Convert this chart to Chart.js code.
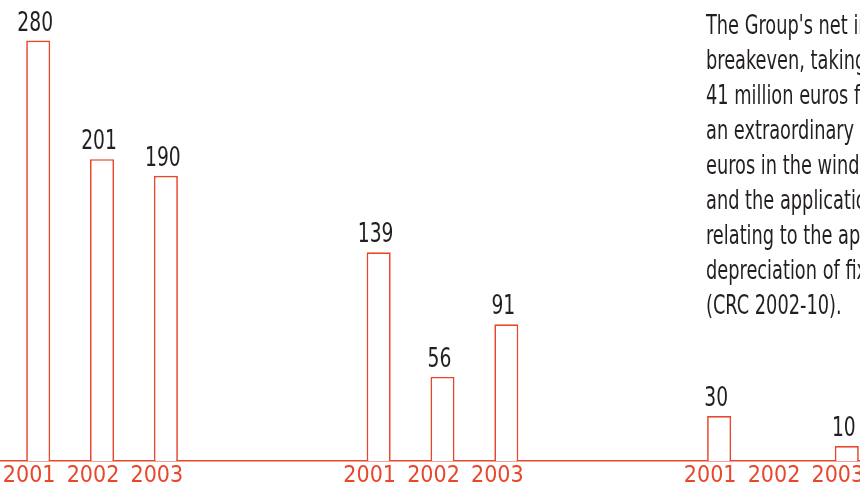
<!DOCTYPE html>
<html>
<head>
<meta charset="utf-8">
<script src="https://cdn.jsdelivr.net/npm/chart.js@4.4.0/dist/chart.umd.min.js"></script>
<style>
  html, body { margin: 0; padding: 0; background: #fff; }
  body { width: 860px; height: 491px; overflow: hidden; position: relative; }
  #wrap { position: absolute; left: -15px; top: 0; width: 915px; height: 491px; }
  #note {
    position: absolute; left: 706px; top: 8px;
    font-family: 'DejaVu Sans Condensed', 'Liberation Sans Narrow', sans-serif;
    font-size: 26px; line-height: 35px; color: #231f20; white-space: nowrap;
    transform: scaleX(0.76); transform-origin: 0 0;
  }
</style>
</head>
<body>
<div id="wrap"><canvas id="chart" width="915" height="491"></canvas></div>
<div id="note">The Group's net income was at<br>breakeven, taking into account<br>41 million euros for restructuring,<br>an extraordinary charge of<br>euros in the winding-up of<br>and the application of rules<br>relating to the approach to<br>depreciation of fixed assets<br>(CRC 2002-10).</div>
<script>
// values
const years = ['2001', '2002', '2003'];
const groupA = [280, 201, 190];
const groupB = [139, 56, 91];
const groupC = [30, null, 10];

const RED = '#e8472b';
const INK = '#231f20';
const FONT = "'DejaVu Sans Condensed', 'Liberation Sans Narrow', sans-serif";

// slot layout: bars every 3 slots, groups every 16 slots
const LEAD = 2, STEP = 3, GROUP = 16, TAIL = 2;
const labels = [];
const values = [];
[groupA, groupB, groupC].forEach((grp, g) => {
  years.forEach((yr, i) => {
    const idx = LEAD + g * GROUP + i * STEP;
    while (labels.length <= idx) { labels.push(''); values.push(null); }
    labels[idx] = yr;
    values[idx] = grp[i];
  });
});
for (let t = 0; t < TAIL; t++) { labels.push(''); values.push(null); }

// value above each bar, drawn a bit narrower like the print font
const valueLabels = {
  id: 'valueLabels',
  afterDatasetsDraw(chart) {
    const ctx = chart.ctx;
    const meta = chart.getDatasetMeta(0);
    ctx.save();
    ctx.font = '26px ' + FONT;
    ctx.fillStyle = INK;
    ctx.textAlign = 'center';
    ctx.textBaseline = 'alphabetic';
    meta.data.forEach((bar, i) => {
      const v = values[i];
      if (v === null) return;
      ctx.save();
      ctx.translate(bar.x - 3, bar.y - 10);
      ctx.scale(0.8, 1);
      ctx.fillText(String(v), 0, 0);
      ctx.restore();
    });
    ctx.restore();
  }
};

new Chart(document.getElementById('chart'), {
  type: 'bar',
  data: {
    labels: labels,
    datasets: [{
      data: values,
      backgroundColor: '#ffffff',
      borderColor: RED,
      borderWidth: 1.7,
      borderSkipped: 'bottom',
      barPercentage: 1.13,
      categoryPercentage: 1
    }]
  },
  options: {
    responsive: false,
    devicePixelRatio: 1,
    animation: false,
    layout: { padding: 0 },
    plugins: { legend: { display: false }, tooltip: { enabled: false } },
    scales: {
      x: {
        grid: { display: false, drawTicks: false },
        border: { display: true, color: RED, width: 1.5 },
        ticks: {
          color: RED,
          font: { family: FONT, size: 23 },
          padding: 1,
          labelOffset: -9,
          maxRotation: 0,
          autoSkip: false
        },
        afterFit(scale) { scale.height = 30; }
      },
      y: {
        display: false,
        min: 0,
        max: 307
      }
    }
  },
  plugins: [valueLabels]
});
</script>
</body>
</html>
